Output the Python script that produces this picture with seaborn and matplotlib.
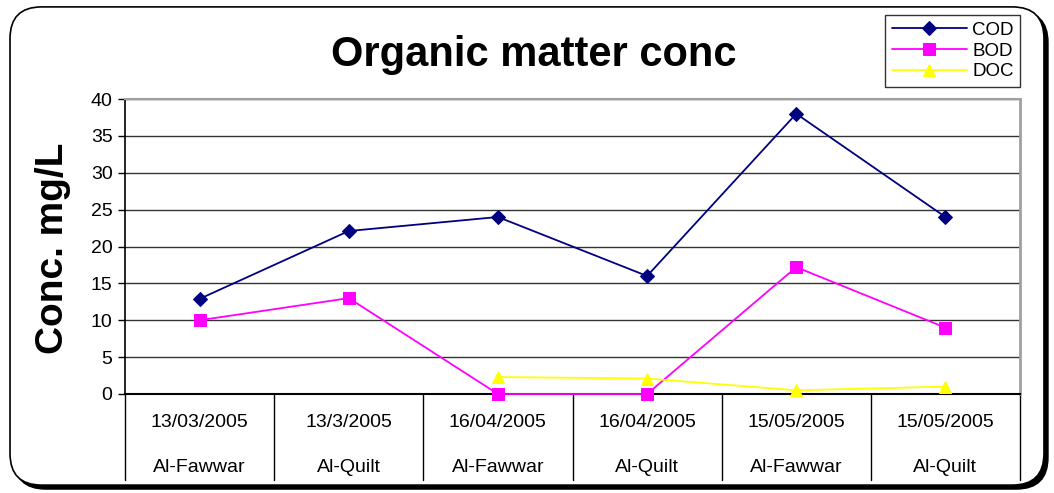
import numpy as np
import pandas as pd
import matplotlib
matplotlib.use("Agg")
import matplotlib.pyplot as plt
import seaborn as sns
from matplotlib.patches import FancyBboxPatch

dates = ["13/03/2005", "13/3/2005", "16/04/2005", "16/04/2005", "15/05/2005", "15/05/2005"]
sites = ["Al-Fawwar", "Al-Quilt", "Al-Fawwar", "Al-Quilt", "Al-Fawwar", "Al-Quilt"]
cod = [12.9, 22.1, 24.0, 16.0, 38.0, 24.0]
bod = [10.0, 13.0, 0.0, 0.0, 17.2, 9.0]
doc = [np.nan, np.nan, 2.3, 2.1, 0.5, 1.0]

sns.set_style("white")
plt.rcParams['font.family'] = ['Liberation Sans', 'DejaVu Sans']
plt.rcParams['text.color'] = 'black'
plt.rcParams['ytick.color'] = 'black'

pos = np.arange(len(dates))
df = pd.DataFrame({"pos": pos, "COD": cod, "BOD": bod, "DOC": doc})

fig = plt.figure(figsize=(10.54, 4.93), dpi=100)

# rounded frame with a dark shadow at the bottom right
shadow = FancyBboxPatch((0.0133, 0.008), 0.981, 0.970, boxstyle="round,pad=0,rounding_size=0.03",
                        transform=fig.transFigure, facecolor='black', edgecolor='black',
                        mutation_aspect=1054 / 493, zorder=-2)
frame = FancyBboxPatch((0.0095, 0.016), 0.981, 0.970, boxstyle="round,pad=0,rounding_size=0.03",
                       transform=fig.transFigure, facecolor='white', edgecolor='black', lw=1.2,
                       mutation_aspect=1054 / 493, zorder=-1)
fig.patches.extend([shadow, frame])

ax = fig.add_axes([125 / 1054, 99 / 493, 895 / 1054, 295 / 493])
ax.set_facecolor('none')

styles = [("COD", "#000080", "D", 7), ("BOD", "#ff00ff", "s", 8), ("DOC", "#ffff00", "^", 9)]
for name, color, marker, ms in styles:
    sns.lineplot(data=df, x="pos", y=name, ax=ax, color=color, marker=marker,
                 markersize=ms, markeredgecolor=color, linewidth=1.3, label=name,
                 legend=False, zorder=3, clip_on=False)

ax.set_xlim(-0.5, len(dates) - 0.5)
ax.set_ylim(0, 40)
ax.set_yticks(range(0, 41, 5))
ax.yaxis.grid(True, color='#333333', lw=1)
ax.set_axisbelow(True)
ax.tick_params(axis='y', left=True, length=5, width=1, color='black', labelsize=14, pad=4)
ax.set_xticks([])
ax.set_xlabel("")
ax.set_ylabel("")

ax.spines['left'].set_color('black')
ax.spines['bottom'].set_color('black')
ax.spines['left'].set_linewidth(1.2)
ax.spines['bottom'].set_linewidth(1.5)
ax.spines['top'].set_color('#a0a0a0')
ax.spines['right'].set_color('#a0a0a0')
ax.spines['top'].set_linewidth(1.5)
ax.spines['right'].set_linewidth(2)

# category table below axis
trans = ax.get_xaxis_transform()
for b in np.arange(-0.5, len(dates), 1.0):
    ax.plot([b, b], [0, -0.29], transform=trans, color='black', lw=1, clip_on=False)
for p, d, s in zip(pos, dates, sites):
    ax.text(p, -0.098, d, transform=trans, ha='center', va='center', fontsize=14)
    ax.text(p, -0.248, s, transform=trans, ha='center', va='center', fontsize=14)

fig.text(0.506, 0.888, "Organic matter conc", ha='center', va='center', fontsize=30, fontweight='bold')
fig.text(0.050, 0.497, "Conc. mg/L", ha='center', va='center', rotation=90, fontsize=28, fontweight='bold')

handles, labels = ax.get_legend_handles_labels()
fig.legend(handles, labels, loc='upper left', bbox_to_anchor=(885 / 1054, 1 - 15 / 493),
           frameon=True, fancybox=False, edgecolor='black', fontsize=13.5,
           borderpad=0.35, labelspacing=0.2, handlelength=4.0, handletextpad=0.3,
           borderaxespad=0)

fig.savefig("out.png", dpi=100)
